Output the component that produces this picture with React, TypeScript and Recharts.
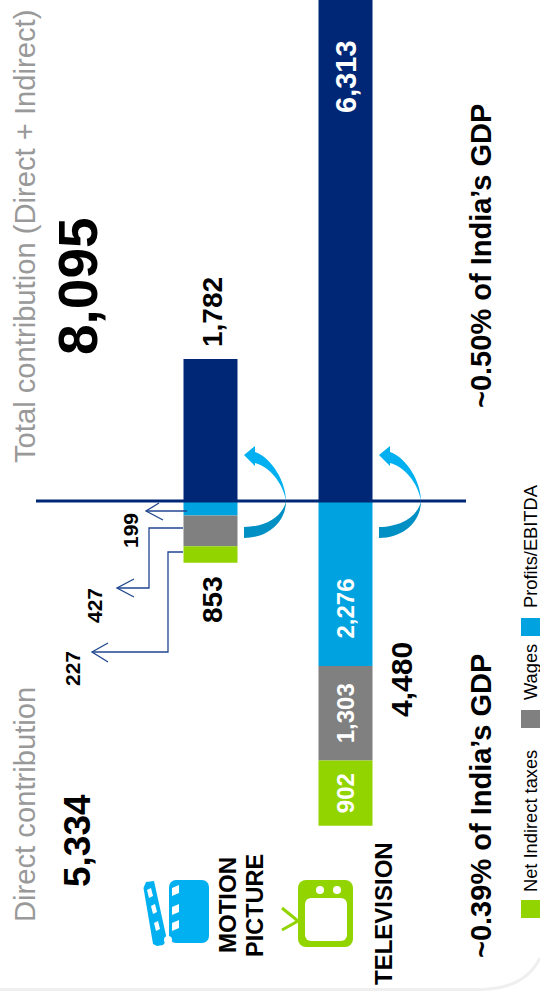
import React from "react";
import { BarChart, Bar, XAxis, YAxis, ReferenceLine, LabelList } from "recharts";

const FONT = "'Liberation Sans', Arial, sans-serif";
const NAVY = "#002776";
const BLUE = "#00A3E0";
const GREY = "#808080";
const GREEN = "#92D400";
const ICON_BLUE = "#00B0F0";

const categories = ["Motion Picture", "Television"];

// printed figures for the upper (indirect) part
const indirectLabels = ["1,782", "6,313"];
// the source draws the upper part on a larger scale and cuts the tall bar at the page edge,
// so these are the lengths as drawn in the units of the lower part
const indirect = [1959, 6910];

const profits = [-199, -2276];
const wages = [-427, -1303];
const taxes = [-227, -902];

const legendItems = [
  { name: "Net Indirect taxes", color: GREEN, y: 900, textY: 892 },
  { name: "Wages", color: GREY, y: 710, textY: 700 },
  { name: "Profits/EBITDA", color: BLUE, y: 618, textY: 608 },
];

const data = categories.map((name, i) => ({
  name,
  indirect: indirect[i],
  profits: profits[i],
  wages: wages[i],
  taxes: taxes[i],
}));

const fmt = (v: number) => Math.abs(v).toLocaleString("en-US");

// all text in the source is turned 90 degrees, x is the baseline and y where the text starts
const VText = ({ x, y, size, bold, fill = "#000", anchor = "start", children }: any) => (
  <text
    transform={`translate(${x},${y}) rotate(-90)`}
    fontFamily={FONT}
    fontSize={size}
    fontWeight={bold ? 700 : 400}
    fill={fill}
    textAnchor={anchor}
  >
    {children}
  </text>
);

// white figures inside the television bars, the motion picture ones sit outside with arrows
const inBarLabel = (values: number[], shift = 0) => (p: any) => {
  if (p.index !== 1) return null;
  const top = Math.min(p.y, p.y + p.height);
  const cy = top + Math.abs(p.height) / 2 + shift;
  return (
    <VText x={p.x + p.width / 2 + 8} y={cy} size={24} bold fill="#fff" anchor="middle">
      {fmt(values[1])}
    </VText>
  );
};

const indirectLabel = (p: any) => {
  if (p.index === 0) return null;
  return (
    <VText x={p.x + p.width / 2 + 10} y={113} size={29} bold fill="#fff">
      {indirectLabels[1]}
    </VText>
  );
};

const CurvedArrow = ({ dx }: { dx: number }) => (
  <g transform={`translate(${dx},0)`}>
    <path d="M286,501 C286,482 272,458 255,452 L255,446 L244,455 L255,466 L255,463 C268,466 283,482 286,501 Z" fill={ICON_BLUE} />
    <path d="M244,527 C266,527 283,516 286,501 C286,522 268,538 244,538 Z" fill="#0090C4" />
  </g>
);

const Callout = ({ points, head }: { points: string; head: string }) => (
  <g fill="none" stroke="#1F4690" strokeWidth={1.3}>
    <polyline points={points} />
    <polyline points={head} />
  </g>
);

const Annotations = () => (
  <svg width={540} height={991} style={{ position: "absolute", left: 0, top: 0 }}>
    <path d="M0,989.5 H480 Q525,989 540,958" fill="none" stroke="#efefef" strokeWidth={3} />

    <VText x={35} y={463} size={29.2} fill="#999999">Total contribution (Direct + Indirect)</VText>
    <VText x={35} y={922} size={29.2} fill="#999999">Direct contribution</VText>
    <VText x={97} y={355} size={55} bold>8,095</VText>
    <VText x={90} y={887} size={37} bold>5,334</VText>

    <VText x={222} y={347} size={28} bold>{indirectLabels[0]}</VText>
    <VText x={222} y={623} size={28} bold>853</VText>
    <VText x={412} y={717} size={30} bold>4,480</VText>
    <VText x={138} y={548} size={21} bold>{fmt(profits[0])}</VText>
    <VText x={102} y={623} size={21} bold>{fmt(wages[0])}</VText>
    <VText x={80} y={686} size={21} bold>{fmt(taxes[0])}</VText>

    <Callout points="187,511 146,511" head="159,503 146,511 163,520" />
    <Callout points="183,528 149,528 149,588 117,588" head="134,579 117,588 134,597" />
    <Callout points="183,552 168,552 168,652 92,652" head="108,643 92,652 108,662" />

    <CurvedArrow dx={0} />
    <CurvedArrow dx={135} />

    <VText x={491} y={408} size={29} bold>~0.50% of India’s GDP</VText>
    <VText x={491} y={958} size={29} bold>~0.39% of India’s GDP</VText>

    <VText x={236} y={953} size={24} bold>MOTION</VText>
    <VText x={263} y={957} size={23.5} bold>PICTURE</VText>
    <VText x={392} y={985} size={24} bold>TELEVISION</VText>

    {/* clapper board */}
    <rect x={169} y={880} width={40} height={63} rx={7} fill={ICON_BLUE} />
    <polygon points="143.5,888 146,882 154,881 167,940 163,945 157,946 153,944" fill={ICON_BLUE} />
    <g fill="#fff">
      <polygon points="172,888 179,885 179,893 172,896" />
      <polygon points="172,907 179,904 179,912 172,915" />
      <polygon points="172,923 179,920 179,928 172,931" />
      <polygon points="147,890 151,888 153,896 149,898" />
      <polygon points="151,906 155,904 157,912 153,914" />
      <polygon points="154,923 158,921 160,929 156,931" />
      <circle cx={168} cy={940} r={4} />
    </g>

    {/* television */}
    <g stroke={GREEN} strokeWidth={3}>
      <line x1={298} y1={921} x2={282} y2={908} />
      <line x1={298} y1={921} x2={282} y2={930} />
    </g>
    <rect x={298} y={880} width={55} height={67} rx={8} fill={GREEN} />
    <rect x={305} y={898} width={42} height={43} rx={6} fill="#fff" />
    <circle cx={320} cy={890} r={4} fill="#fff" />
    <circle cx={337} cy={890} r={4} fill="#fff" />

    {legendItems.map((item) => (
      <g key={item.name}>
        <rect x={521} y={item.y} width={19} height={18} fill={item.color} />
        <VText x={537} y={item.textY} size={18.3}>{item.name}</VText>
      </g>
    ))}
  </svg>
);

export default function App() {
  return (
    <div style={{ position: "absolute", left: 0, top: 0, width: 540, height: 991, overflow: "hidden", background: "#fff" }}>
      <BarChart
        width={540}
        height={991}
        data={data}
        stackOffset="sign"
        barSize={54}
        margin={{ top: 0, right: 74, bottom: 0, left: 36 }}
      >
        <XAxis dataKey="name" hide padding={{ left: 106.5, right: 53.5 }} />
        <YAxis hide domain={[-6759, 6910]} allowDataOverflow />
        <Bar dataKey="indirect" stackId="a" fill={NAVY} isAnimationActive={false}>
          <LabelList content={indirectLabel} />
        </Bar>
        <Bar dataKey="profits" stackId="a" fill={BLUE} isAnimationActive={false}>
          <LabelList content={inBarLabel(profits, 25)} />
        </Bar>
        <Bar dataKey="wages" stackId="a" fill={GREY} isAnimationActive={false}>
          <LabelList content={inBarLabel(wages)} />
        </Bar>
        <Bar dataKey="taxes" stackId="a" fill={GREEN} isAnimationActive={false}>
          <LabelList content={inBarLabel(taxes)} />
        </Bar>
        <ReferenceLine y={0} stroke={NAVY} strokeWidth={3} />
      </BarChart>
      <Annotations />
    </div>
  );
}
